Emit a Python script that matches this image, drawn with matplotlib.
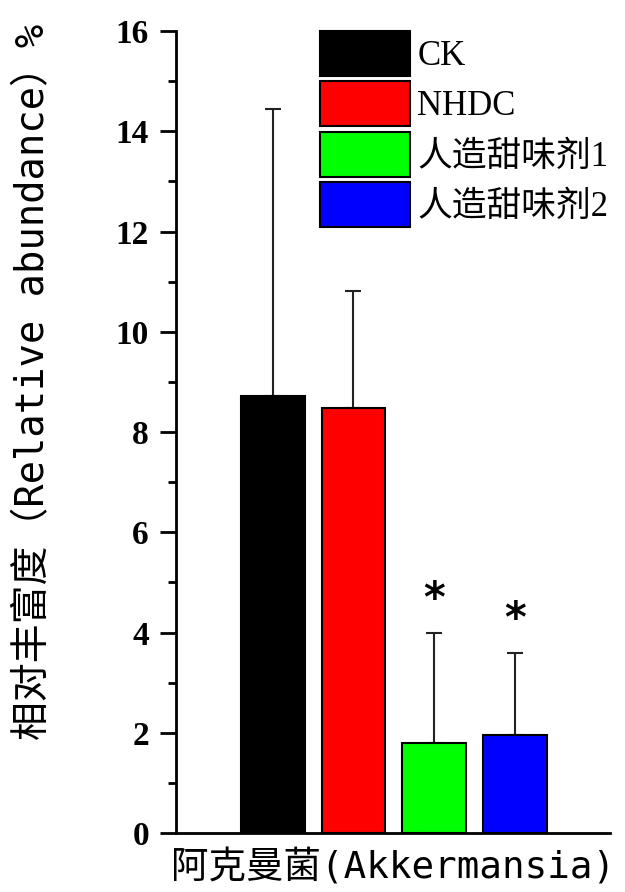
import matplotlib
matplotlib.use("Agg")
import matplotlib.pyplot as plt
from matplotlib.ticker import MultipleLocator

groups = ["CK", "NHDC", "人造甜味剂1", "人造甜味剂2"]
means = [8.72, 8.48, 1.80, 1.96]
errs = [5.73, 2.34, 2.19, 1.63]
colors = ["#000000", "#ff0000", "#00ff00", "#0000ff"]
sig = ["", "", "*", "*"]
yticks = [0, 2, 4, 6, 8, 10, 12, 14, 16]

fig = plt.figure(figsize=(6.25, 8.92), dpi=100)
ax = fig.add_axes([0.2816, 0.0661, 0.976 - 0.2816, 0.9652 - 0.0661])

xs = list(range(len(groups)))
for x, m, e, c, g in zip(xs, means, errs, colors, groups):
    ax.bar(x, m, width=0.79, color=c, edgecolor="black", linewidth=1.5, label=g, zorder=2)
    ax.errorbar(x, m, yerr=[[0], [e]], fmt="none", ecolor="#222222", elinewidth=1.5,
                capsize=6, capthick=1.5, zorder=1)

for x, m, e, s in zip(xs, means, errs, sig):
    if s:
        ax.text(x, m + e + 0.25, s, ha="center", va="bottom", fontsize=30,
                fontweight="bold", family="DejaVu Sans")

ax.set_xlim(-1.2, 4.18)
ax.set_ylim(0, 16)
ax.set_yticks(yticks)
ax.yaxis.set_minor_locator(MultipleLocator(1))
ax.set_xticks([])
for sp in ["top", "right"]:
    ax.spines[sp].set_visible(False)
for sp in ["left", "bottom"]:
    ax.spines[sp].set_linewidth(2)
ax.tick_params(axis="y", which="major", direction="out", length=11.5, width=2, pad=8)
ax.tick_params(axis="y", which="minor", direction="out", length=5.8, width=2)
for lab in ax.get_yticklabels():
    lab.set_fontfamily("Liberation Serif")
    lab.set_fontweight("bold")
    lab.set_fontsize(24)

ax.set_ylabel("相对丰富度（Relative abundance）%", family=["DejaVu Sans Mono", "Noto Sans CJK SC"],
              fontsize=28)
ax.yaxis.set_label_coords(-0.285, 0.562)
ax.set_xlabel("阿克曼菌(Akkermansia)", family=["DejaVu Sans Mono", "Noto Sans CJK SC"],
              fontsize=27, labelpad=12)

leg = ax.legend(loc="upper left", bbox_to_anchor=(0.332, 1.0), frameon=False,
                prop={"family": ["Liberation Serif", "Noto Sans CJK SC"], "size": 25},
                handlelength=2.6, handleheight=1.62, labelspacing=0.15, handletextpad=0.2,
                borderaxespad=0, borderpad=0)

fig.savefig("out.png", dpi=100)
